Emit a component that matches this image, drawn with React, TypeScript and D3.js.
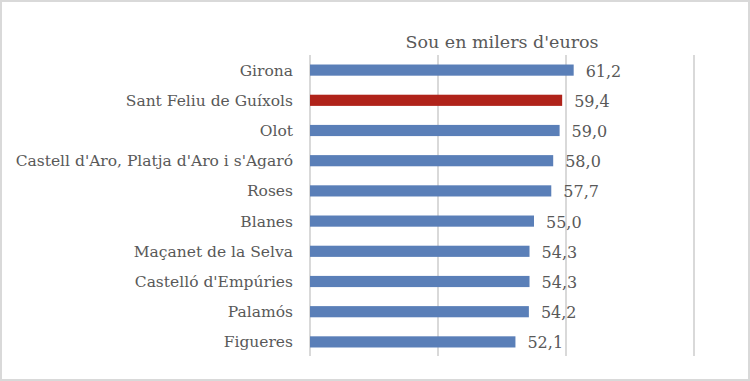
import React from "react";
import * as d3 from "d3";

const categories = [
  "Girona",
  "Sant Feliu de Guíxols",
  "Olot",
  "Castell d'Aro, Platja d'Aro i s'Agaró",
  "Roses",
  "Blanes",
  "Maçanet de la Selva",
  "Castelló d'Empúries",
  "Palamós",
  "Figueres",
];
const values = [61.2, 59.4, 59.0, 58.0, 57.7, 55.0, 54.3, 54.3, 54.2, 52.1];
const highlight = ["Sant Feliu de Guíxols"];
const gridTicks = [20, 40, 60, 80];
const title = "Sou en milers d'euros";

export default function App() {
  const W = 750, H = 381;
  const x = d3.scaleLinear().domain([20, 80]).range([310, 694]);
  const y = d3.scaleBand<string>().domain(categories).range([55, 357]).paddingInner(0.63).paddingOuter(0.315);
  const fmt = (v: number) => v.toFixed(1).replace(".", ",");
  const st = { fontFamily: "DejaVu Serif" };
  return (
    <svg width={W} height={H} style={{ position: "absolute", left: 0, top: 0 }}>
      <rect x={0} y={0} width={W} height={H} fill="#fff" />
      <rect x={1} y={1} width={W - 2} height={H - 2} fill="none" stroke="#d9d9d9" strokeWidth={2} />
      <text x={502} y={48} textAnchor="middle" style={st} fontSize={17.5} fill="#595959">{title}</text>
      {gridTicks.map((t) => (
        <line key={t} x1={x(t)} x2={x(t)} y1={55} y2={356} stroke="#d9d9d9" strokeWidth={2} />
      ))}
      {categories.map((c, i) => {
        const yc = (y(c) as number) + y.bandwidth() / 2;
        return (
          <g key={c}>
            <rect x={x(20)} y={y(c)} width={x(values[i]) - x(20)} height={y.bandwidth()}
              fill={highlight.includes(c) ? "#b0231a" : "#5a7fb8"} />
            <text x={293} y={yc} dy="0.35em" textAnchor="end" style={st} fontSize={15.5} fill="#595959">{c}</text>
            <text x={x(values[i]) + 12} y={yc} dy="0.4em" textAnchor="start" style={st} fontSize={16} fill="#595959">{fmt(values[i])}</text>
          </g>
        );
      })}
    </svg>
  );
}
